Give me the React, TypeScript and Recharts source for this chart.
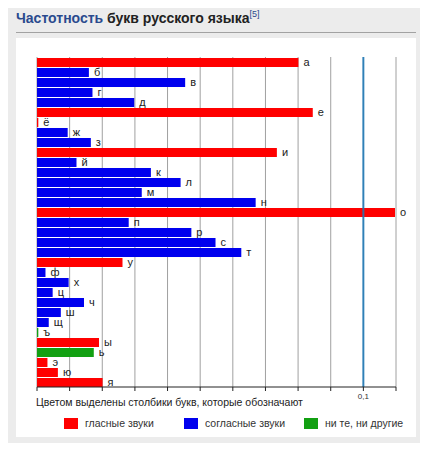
import { BarChart, Bar, XAxis, YAxis, CartesianGrid, ReferenceLine, Cell, LabelList } from "recharts";

const LETTERS = ["а", "б", "в", "г", "д", "е", "ё", "ж", "з", "и", "й", "к", "л", "м", "н", "о", "п", "р", "с", "т", "у", "ф", "х", "ц", "ч", "ш", "щ", "ъ", "ы", "ь", "э", "ю", "я"];
const FREQ = [0.0801, 0.0159, 0.0454, 0.017, 0.0298, 0.0845, 0.0004, 0.0094, 0.0165, 0.0735, 0.0121, 0.0349, 0.044, 0.0321, 0.067, 0.1097, 0.0281, 0.0473, 0.0547, 0.0626, 0.0262, 0.0026, 0.0097, 0.0048, 0.0144, 0.0073, 0.0036, 0.0004, 0.019, 0.0174, 0.0032, 0.0064, 0.0201];
// v = гласные, c = согласные, n = ни те, ни другие
const KIND = ["v", "c", "c", "c", "c", "v", "v", "c", "c", "v", "c", "c", "c", "c", "c", "v", "c", "c", "c", "c", "v", "c", "c", "c", "c", "c", "c", "n", "v", "n", "v", "v", "v"];
const X_TICKS = [0, 0.01, 0.02, 0.03, 0.04, 0.05, 0.06, 0.07, 0.08, 0.09, 0.1, 0.11];

const COLORS: Record<string, string> = { v: "#ff0000", c: "#0000ee", n: "#12a012" };
const LEGEND = [
  { kind: "v", label: "гласные звуки", x: 64, tx: 85 },
  { kind: "c", label: "согласные звуки", x: 184, tx: 205 },
  { kind: "n", label: "ни те, ни другие", x: 304, tx: 325 },
];

const FONT = '"Liberation Sans", Arial, sans-serif';

const data = LETTERS.map((letter, i) => ({ letter, freq: FREQ[i], kind: KIND[i] }));

export default function App() {
  return (
    <div style={{ position: "relative", margin: -8, width: 428, height: 451, overflow: "hidden", background: "#fff", fontFamily: FONT }}>
      <div style={{ position: "absolute", left: 2, top: 0, width: 440, height: 447, background: "#ececec", border: "1px solid #a8a8a8", boxSizing: "border-box" }} />
      <div style={{ position: "absolute", left: 16, top: 9, fontSize: 14, fontWeight: "bold", color: "#222", whiteSpace: "nowrap" }}>
        <span style={{ color: "#2a4a8e" }}>Частотность</span> букв русского языка
        <sup style={{ fontSize: 9, fontWeight: "normal", color: "#2a4a8e" }}>[5]</sup>
      </div>
      <div style={{ position: "absolute", left: 16, top: 32, width: 400, height: 1, background: "#a2a2a2" }} />
      <div style={{ position: "absolute", left: 16, top: 38, width: 400, height: 399, background: "#fff" }} />

      <div style={{ position: "absolute", left: 0, top: 0 }}>
        <BarChart width={428} height={451} data={data} layout="vertical" barSize={9} barCategoryGap={0}
          margin={{ top: 57, left: 37, right: 32, bottom: 34 }}>
          <CartesianGrid horizontal={false} stroke="#a0a0a0" verticalValues={X_TICKS} />
          <XAxis type="number" dataKey="freq" domain={[0, 0.11]} ticks={X_TICKS} allowDataOverflow
            tickSize={4} stroke="#222" height={30}
            tick={{ fontSize: 8, fill: "#333", fontFamily: FONT }}
            tickFormatter={(v: number) => (Math.abs(v - 0.1) < 1e-9 ? "0,1" : "")} />
          <YAxis type="category" dataKey="letter" hide />
          <Bar dataKey="freq" isAnimationActive={false}>
            {data.map((d) => <Cell key={d.letter} fill={COLORS[d.kind]} />)}
            <LabelList dataKey="letter" position="right" offset={5} style={{ fontSize: 11, fill: "#222", fontFamily: FONT }} />
          </Bar>
          <ReferenceLine x={0.1} stroke="#1a78b8" strokeWidth={2} strokeOpacity={0.85} />
        </BarChart>
      </div>

      <div style={{ position: "absolute", left: 36, top: 396, fontSize: 10.5, color: "#222", whiteSpace: "nowrap" }}>
        Цветом выделены столбики букв, которые обозначают
      </div>
      {LEGEND.map((l) => (
        <div key={l.kind}>
          <div style={{ position: "absolute", left: l.x, top: 418, width: 14, height: 11, background: COLORS[l.kind] }} />
          <div style={{ position: "absolute", left: l.tx, top: 417, fontSize: 10.5, color: "#333", whiteSpace: "nowrap" }}>{l.label}</div>
        </div>
      ))}
    </div>
  );
}
